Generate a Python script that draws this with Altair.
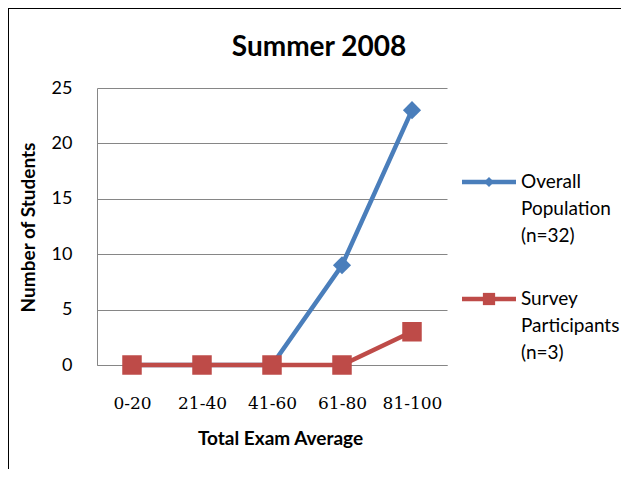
import altair as alt
import pandas as pd

categories = ["0-20", "21-40", "41-60", "61-80", "81-100"]
overall = [0, 0, 0, 9, 23]
survey = [0, 0, 0, 0, 3]
series_names = ["Overall Population (n=32)", "Survey Participants (n=3)"]
legend_lines = [["Overall", "Population", "(n=32)"], ["Survey", "Participants", "(n=3)"]]
colors = ["#4A7EBB", "#BE4B48"]

df_o = pd.DataFrame({"range": categories, "value": overall})
df_s = pd.DataFrame({"range": categories, "value": survey})
one = pd.DataFrame({"a": [0]})

W, H = 350, 277
PL, PT = 89, 80

x_enc = alt.X(
    "range:N",
    sort=categories,
    scale=alt.Scale(type="point", padding=0.5),
    axis=alt.Axis(
        title="Total Exam Average",
        titleFont="Lato", titleFontSize=19, titleFontWeight="bold", titleColor="black",
        titleX=183, titleY=73, titleBaseline="middle", titleAlign="center",
        labelFont="DejaVu Serif", labelFontSize=17, labelColor="black",
        labelPadding=30, labelAngle=0, ticks=False,
        domainColor="#868686", domainWidth=1, grid=False,
    ),
)
y_enc = alt.Y(
    "value:Q",
    scale=alt.Scale(domain=[0, 25], nice=False),
    axis=alt.Axis(
        title="Number of Students",
        titleFont="Lato", titleFontSize=19, titleFontWeight="bold", titleColor="black",
        titleX=-69, titleY=139, titleAngle=-90, titleBaseline="middle", titleAlign="center",
        labelFont="Lato", labelFontSize=18, labelColor="black",
        labelPadding=25, ticks=False, values=[0, 5, 10, 15, 20, 25],
        domainColor="#868686", domainWidth=1,
        grid=True, gridColor="#868686", gridWidth=1,
    ),
)

blue_line = alt.Chart(df_o).mark_line(color=colors[0], strokeWidth=4.5).encode(x=x_enc, y=y_enc)
blue_pts = alt.Chart(df_o).mark_point(shape="diamond", filled=True, size=330, opacity=1, color=colors[0]).encode(x="range:N", y="value:Q")
red_line = alt.Chart(df_s).mark_line(color=colors[1], strokeWidth=4.5).encode(x="range:N", y="value:Q")
red_pts = alt.Chart(df_s).mark_point(shape="square", filled=True, size=380, opacity=1, color=colors[1]).encode(x="range:N", y="value:Q")

title = alt.Chart(one).mark_text(
    text="Summer 2008", font="Lato", fontSize=28, fontWeight="bold", color="black",
    align="center", baseline="middle",
).encode(x=alt.value(222), y=alt.value(-40))

legend_layers = []
for i, ly in enumerate([94, 211]):
    legend_layers.append(
        alt.Chart(one).mark_rule(color=colors[i], strokeWidth=4.5).encode(
            x=alt.value(365), x2=alt.value(419), y=alt.value(ly))
    )
    legend_layers.append(
        alt.Chart(one).mark_point(
            shape=["diamond", "square"][i], filled=True, opacity=1, color=colors[i],
            size=[100, 150][i],
        ).encode(x=alt.value(392), y=alt.value(ly))
    )
    legend_layers.append(
        alt.Chart(one).mark_text(
            text=legend_lines[i], lineHeight=27, align="left", baseline="middle",
            font="Lato", fontSize=19, color="black",
        ).encode(x=alt.value(424), y=alt.value(ly))
    )

border_left = alt.Chart(one).mark_rule(color="black", strokeWidth=2).encode(
    x=alt.value(-PL), y=alt.value(-PT), y2=alt.value(461 - PT))
border_top = alt.Chart(one).mark_rule(color="black", strokeWidth=2).encode(
    x=alt.value(-PL), x2=alt.value(613 - PL), y=alt.value(-PT))

chart = alt.layer(
    blue_line, blue_pts, red_line, red_pts, title, *legend_layers, border_left, border_top
).properties(
    width=W, height=H,
    autosize=alt.AutoSizeParams(type="none"),
    padding={"left": PL, "top": PT, "right": 613 - PL - W, "bottom": 461 - PT - H},
    background="white",
).configure_view(stroke=None)

chart.save("out.html", embed_options={"renderer": "svg", "actions": False})
